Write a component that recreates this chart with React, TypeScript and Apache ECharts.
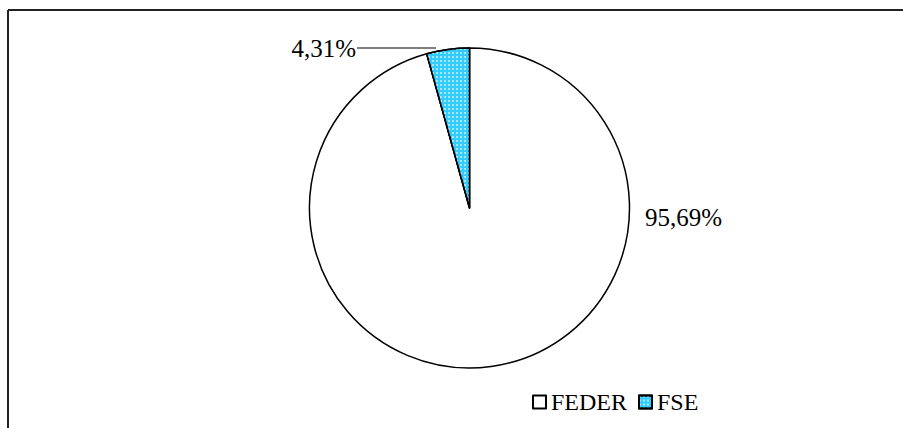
import React, { useEffect, useRef } from "react";
import * as echarts from "echarts";

const categories = ["FEDER", "FSE"];
const values = [95.69, 4.31];
const colors = ["#FFFFFF", "#33CCFF"];

export default function App() {
  const ref = useRef<HTMLDivElement>(null);
  useEffect(() => {
    document.body.style.margin = "0";
    document.body.style.overflow = "hidden";
    if (!ref.current) return;
    const chart = echarts.init(ref.current, null, { renderer: "svg" });
    const font = "Liberation Serif";
    chart.setOption({
      animation: false,
      backgroundColor: "#FFFFFF",
      textStyle: { fontFamily: font },
      graphic: [
        {
          type: "line",
          shape: { x1: 8, y1: 10, x2: 903, y2: 10 },
          style: { stroke: "#222", lineWidth: 2 },
          silent: true,
        },
        {
          type: "line",
          shape: { x1: 8, y1: 10, x2: 8, y2: 428 },
          style: { stroke: "#222", lineWidth: 2 },
          silent: true,
        },
      ],
      legend: {
        left: 527,
        top: 385,
        itemWidth: 13,
        itemHeight: 13,
        itemGap: 11,
        icon: "rect",
        data: categories,
        textStyle: { fontFamily: font, fontSize: 24, color: "#000" },
      },
      series: [
        {
          type: "pie",
          center: [469.5, 208],
          radius: 160,
          startAngle: 90,
          clockwise: true,
          avoidLabelOverlap: false,
          itemStyle: { borderColor: "#000", borderWidth: 1.5 },
          label: {
            show: true,
            position: "outside",
            fontFamily: font,
            fontSize: 25,
            color: "#000",
            formatter: (p: any) => p.value.toFixed(2).replace(".", ",") + "%",
          },
          labelLine: { show: true, lineStyle: { color: "#000", width: 1 } },
          labelLayout: (p: any) => {
            if (p.dataIndex === 1) {
              return {
                x: 356,
                y: 48,
                align: "right",
                verticalAlign: "middle",
                labelLinePoints: [
                  [436, 48],
                  [396, 48],
                  [357, 48],
                ],
              };
            }
            return { x: 645, y: 217, align: "left", verticalAlign: "middle" };
          },
          data: categories.map((c, i) => ({
            name: c,
            value: values[i],
            itemStyle:
              i === 1
                ? {
                    color: colors[i],
                    decal: {
                      symbol: "rect",
                      symbolSize: 1,
                      dashArrayX: [2, 2],
                      dashArrayY: [2, 2],
                      color: "rgba(255,255,255,0.55)",
                      rotation: 0,
                    },
                  }
                : { color: colors[i] },
            labelLine: { show: i === 1 },
          })),
        },
      ],
    });
    return () => chart.dispose();
  }, []);
  return (
    <div
      ref={ref}
      style={{ position: "fixed", left: 0, top: 0, width: 903, height: 428 }}
    />
  );
}
